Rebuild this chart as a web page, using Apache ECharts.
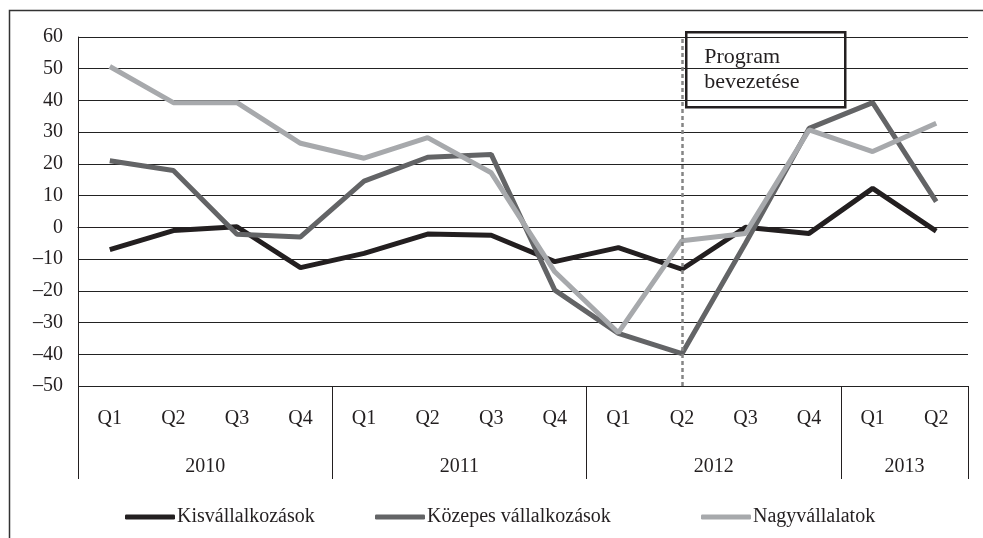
<!DOCTYPE html>
<html>
<head>
<meta charset="utf-8">
<script src="https://cdn.jsdelivr.net/npm/echarts@6/dist/echarts.min.js"></script>
<style>
  html, body { margin: 0; padding: 0; background: #fff; }
  #chart { width: 983px; height: 538px; }
</style>
</head>
<body>
<div id="chart"></div>
<script>
// adatok
const quarters = ['Q1', 'Q2', 'Q3', 'Q4', 'Q1', 'Q2', 'Q3', 'Q4', 'Q1', 'Q2', 'Q3', 'Q4', 'Q1', 'Q2']
const years = ['2010', '2011', '2012', '2013']
const quartersPerYear = [4, 4, 4, 2]
const kis = [-7, -1, 0.2, -12.7, -8.2, -2.1, -2.5, -10.8, -6.4, -13.2, 0, -1.9, 12.3, -1.2]
const kozepes = [21, 17.9, -2.2, -3, 14.6, 22.1, 23, -19.8, -33.4, -39.8, -5, 31.2, 39.3, 8.1]
const nagy = [50.7, 39.3, 39.3, 26.5, 21.8, 28.3, 17.2, -14, -33.2, -4.2, -1.9, 30.7, 23.9, 32.8]
const seriesNames = ['Kisvállalkozások', 'Közepes vállalkozások', 'Nagyvállalatok']
const programIndex = 9
const yTicks = { min: -50, max: 60, interval: 10 }

// évhatárok és évcímkék helye
let yearBounds = [0]
let yearCenters = []
let acc = 0
for (const n of quartersPerYear) {
    yearCenters.push(acc + n / 2)
    acc += n
    yearBounds.push(acc)
}

const font = 'Liberation Serif, Times New Roman, serif'
const ink = '#231f20'
const chart = echarts.init(document.getElementById('chart'))

// jelmagyarázat: három külön elem, mint az eredetin
const legendLefts = [125, 375, 701]
let legends = seriesNames.map((name, i) => ({
    left: legendLefts[i],
    top: 507,
    padding: 0,
    itemWidth: 50,
    itemHeight: 5,
    icon: 'roundRect',
    textStyle: { fontFamily: font, fontSize: 20, color: ink, padding: [0, 0, 0, -3] },
    data: [name]
}))

let option = {
    animation: false,
    textStyle: { fontFamily: font, color: ink },
    grid: { left: 78, right: 15, top: 37, bottom: 152, containLabel: false },
    legend: legends,
    xAxis: [
        {
            type: 'category',
            data: quarters,
            boundaryGap: true,
            axisLine: { lineStyle: { color: ink, width: 1 } },
            axisTick: { show: false },
            axisLabel: { fontFamily: font, fontSize: 20, color: ink, margin: 23, interval: 0 },
            splitLine: { show: false }
        },
        {
            type: 'value',
            min: 0,
            max: quarters.length,
            position: 'bottom',
            axisLine: { show: false },
            axisTick: {
                show: true,
                length: 93,
                customValues: yearBounds,
                lineStyle: { color: ink, width: 1 }
            },
            axisLabel: {
                fontFamily: font,
                fontSize: 20,
                color: ink,
                margin: 71,
                customValues: yearCenters,
                formatter: function (v) {
                    const i = yearCenters.indexOf(v)
                    return i >= 0 ? years[i] : ''
                }
            },
            splitLine: { show: false }
        }
    ],
    yAxis: {
        type: 'value',
        min: yTicks.min,
        max: yTicks.max,
        interval: yTicks.interval,
        axisLine: { show: true, lineStyle: { color: ink, width: 1 } },
        axisTick: { show: false },
        axisLabel: {
            fontFamily: font,
            fontSize: 20,
            color: ink,
            margin: 15,
            formatter: function (v) {
                return v < 0 ? '\u2013' + Math.abs(v) : String(v)
            }
        },
        splitLine: { show: true, lineStyle: { color: '#222', width: 1 } }
    },
    series: [
        {
            name: seriesNames[0],
            type: 'line',
            data: kis,
            symbol: 'none',
            color: '#231f20',
            lineStyle: { width: 5, color: '#231f20' },
            markLine: {
                silent: true,
                symbol: 'none',
                label: { show: false },
                lineStyle: { color: '#858585', width: 2.5, type: [4, 3] },
                data: [{ xAxis: programIndex }]
            }
        },
        {
            name: seriesNames[1],
            type: 'line',
            data: kozepes,
            symbol: 'none',
            color: '#636466',
            lineStyle: { width: 5, color: '#636466' }
        },
        {
            name: seriesNames[2],
            type: 'line',
            data: nagy,
            symbol: 'none',
            color: '#a7a9ac',
            lineStyle: { width: 5, color: '#a7a9ac' }
        }
    ],
    graphic: [
        {
            type: 'rect',
            shape: { x: 9.5, y: 10.5, width: 1000, height: 600 },
            style: { fill: 'none', stroke: '#333', lineWidth: 1.5 },
            silent: true
        },
        {
            type: 'group',
            left: 685,
            top: 31,
            z: 100,
            children: [
                {
                    type: 'rect',
                    shape: { x: 0, y: 0, width: 159, height: 75 },
                    style: { fill: '#fff', stroke: ink, lineWidth: 2.5 }
                },
                {
                    type: 'text',
                    x: 18,
                    y: 12,
                    style: {
                        text: 'Program\nbevezetése',
                        font: '22px ' + font,
                        fill: ink,
                        lineHeight: 25
                    }
                }
            ]
        }
    ]
}
chart.setOption(option)
</script>
</body>
</html>
